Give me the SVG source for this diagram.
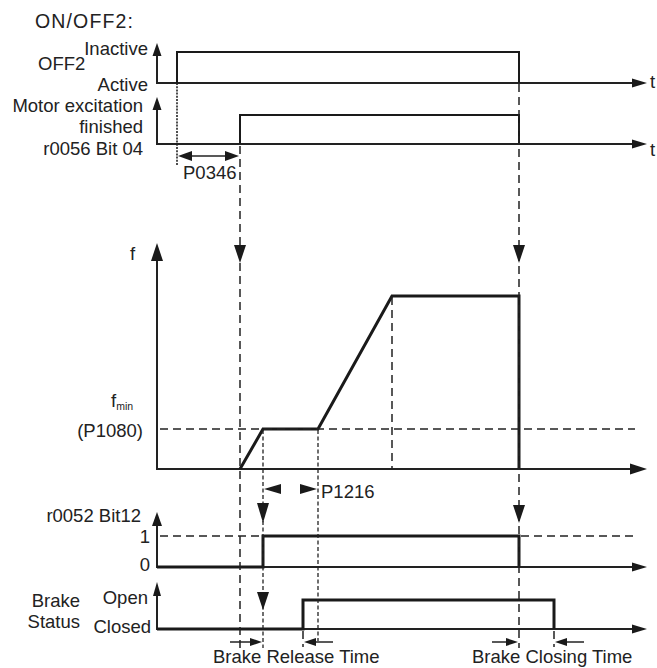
<svg xmlns="http://www.w3.org/2000/svg" width="657" height="668" viewBox="0 0 657 668">
<style>
text{font-family:"Liberation Sans",Arial,sans-serif;font-size:18.5px;fill:#222}
.r{text-anchor:end}
.ax{stroke:#222;stroke-width:2;fill:none}
.sig{stroke:#1a1a1a;stroke-width:2;fill:none;stroke-linejoin:miter}
.sig3{stroke:#1a1a1a;stroke-width:3;fill:none;stroke-linejoin:miter}
.dl{stroke:#222;stroke-width:1.5;fill:none;stroke-dasharray:8,5}
.df{stroke:#222;stroke-width:1.3;fill:none;stroke-dasharray:4,2.5}
.dt{stroke:#222;stroke-width:1.6;fill:none;stroke-dasharray:2,1.2}
.ln{stroke:#222;stroke-width:1.5;fill:none}
.ah{fill:#1a1a1a;stroke:none}
</style>
<rect width="657" height="668" fill="#fff"/>
<text x="35" y="28" style="font-size:19.5px" textLength="98">ON/OFF2:</text>

<g id="off2">
<line class="ax" x1="157" y1="54" x2="157" y2="83"/>
<polygon class="ah" points="157,43 152.5,56 161.5,56"/>
<line class="ax" x1="156" y1="83" x2="634" y2="83"/>
<polygon class="ah" points="647,83 632,78.5 632,87.5"/>
<polyline class="sig" points="177,83 177,52 519,52 519,83"/>
<text class="r" x="148" y="55">Inactive</text>
<text x="38" y="70">OFF2</text>
<text class="r" x="148" y="91">Active</text>
<text x="650" y="88">t</text>
</g>

<g id="motor">
<line class="ax" x1="157" y1="109" x2="157" y2="144"/>
<polygon class="ah" points="157,97 152.5,110 161.5,110"/>
<line class="ax" x1="156" y1="144" x2="634" y2="144"/>
<polygon class="ah" points="647,144 632,139.5 632,148.5"/>
<polyline class="sig" points="240,144 240,115 519,115 519,144"/>
<text class="r" x="143" y="112">Motor excitation</text>
<text class="r" x="143" y="133">finished</text>
<text class="r" x="143" y="155">r0056 Bit 04</text>
<text x="650" y="156">t</text>
</g>

<g id="freq">
<line class="ax" x1="157" y1="258" x2="157" y2="469"/>
<polygon class="ah" points="157,243 151,261 163,261"/>
<line class="ax" x1="156" y1="469" x2="632" y2="469"/>
<polygon class="ah" points="647,469 630,463.5 630,474.5"/>
<polyline class="sig3" points="240,469 263,429 318,429 392,296 519,296 519,469"/>
<text x="130" y="260">f</text>
<text x="111" y="407">f<tspan dy="3" style="font-size:10.5px">min</tspan></text>
<text class="r" x="143" y="437">(P1080)</text>
</g>

<g id="r0052">
<line class="ax" x1="157" y1="524" x2="157" y2="567"/>
<polygon class="ah" points="157,512 152,526 162,526"/>
<line class="ax" x1="156" y1="567" x2="634" y2="567"/>
<polygon class="ah" points="647,567 632,562.5 632,571.5"/>
<polyline class="sig3" points="157,567 263,567 263,536 519,536 519,567"/>
<text class="r" x="141" y="522">r0052 Bit12</text>
<text class="r" x="150" y="543">1</text>
<text class="r" x="150" y="571">0</text>
</g>

<g id="brake">
<line class="ax" x1="157" y1="594" x2="157" y2="629"/>
<polygon class="ah" points="157,582 153,596 161,596"/>
<line class="ax" x1="156" y1="629" x2="634" y2="629"/>
<polygon class="ah" points="647,629 632,624.5 632,633.5"/>
<polyline class="sig3" points="157,629 303,629 303,600 554,600 554,629"/>
<text class="r" x="80" y="607">Brake</text>
<text class="r" x="80" y="628">Status</text>
<text class="r" x="148" y="604">Open</text>
<text class="r" x="151" y="633">Closed</text>
</g>

<g id="connectors">
<line class="dt" x1="177" y1="83" x2="177" y2="165"/>
<line class="ln" x1="186" y1="156" x2="231" y2="156"/>
<polygon class="ah" points="178,156 192,151 192,161"/>
<polygon class="ah" points="239,156 225,151 225,161"/>
<text x="183" y="179">P0346</text>

<line class="dl" x1="240" y1="146" x2="240" y2="648"/>
<polygon class="ah" points="240,263 234,245 246,245"/>
<line class="dl" x1="519" y1="84" x2="519" y2="648"/>
<polygon class="ah" points="519,263 513,245 525,245"/>
<polygon class="ah" points="519,523 513,505 525,505"/>
<line class="dl" x1="392" y1="297" x2="392" y2="469"/>
<line class="dl" x1="160" y1="429" x2="635" y2="429"/>
<line class="dl" x1="160" y1="536" x2="263" y2="536"/>
<line class="dl" x1="521" y1="536" x2="635" y2="536"/>
<line class="df" x1="263" y1="430" x2="263" y2="648"/>
<polygon class="ah" points="263,523 257,503 269,503"/>
<polygon class="ah" points="263,610 257,592 269,592"/>
<line class="df" x1="318" y1="430" x2="318" y2="641"/>
<polygon class="ah" points="264,489 281,484 281,494"/>
<polygon class="ah" points="317,489 300,484 300,494"/>
<text x="321" y="498">P1216</text>

<line class="dl" x1="303" y1="631" x2="303" y2="647"/>
<line class="dl" x1="554" y1="631" x2="554" y2="647"/>
<line class="ln" x1="230" y1="642" x2="252" y2="642"/>
<polygon class="ah" points="262,642 250,638 250,646"/>
<line class="ln" x1="333" y1="642" x2="315" y2="642"/>
<polygon class="ah" points="304,642 316,638 316,646"/>
<line class="ln" x1="492" y1="642" x2="508" y2="642"/>
<polygon class="ah" points="518,642 506,638 506,646"/>
<line class="ln" x1="584" y1="642" x2="567" y2="642"/>
<polygon class="ah" points="555,642 567,638 567,646"/>
<text x="213" y="663">Brake Release Time</text>
<text x="472" y="663">Brake Closing Time</text>
</g>
</svg>
